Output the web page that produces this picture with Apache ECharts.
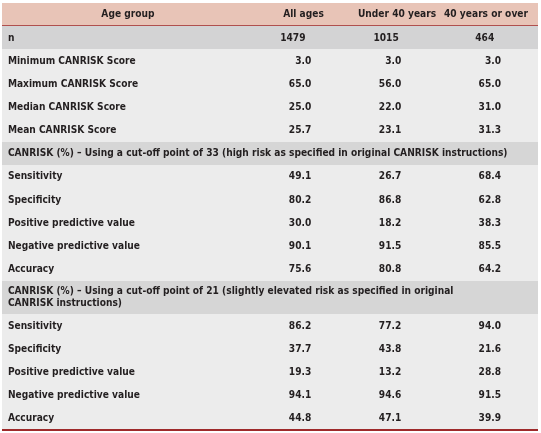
<!DOCTYPE html>
<html>
<head>
<meta charset="utf-8">
<script src="https://cdn.jsdelivr.net/npm/echarts/dist/echarts.min.js"></script>
<style>html,body{margin:0;padding:0;background:#fff;}#chart{width:541px;height:433px;}</style>
</head>
<body>
<div id="chart"></div>
<script>
// ---- data ----
const headerTitle = 'Age group';
const columns = ['All ages', 'Under 40 years', '40 years or over'];
const nLabel = 'n';
const nValues = [1479, 1015, 464];

const scoreLabels = ['Minimum CANRISK Score', 'Maximum CANRISK Score', 'Median CANRISK Score', 'Mean CANRISK Score'];
const scoreAll = [3.0, 65.0, 25.0, 25.7];
const scoreUnder40 = [3.0, 56.0, 22.0, 23.1];
const scoreOver40 = [3.0, 65.0, 31.0, 31.3];

const section33Title = 'CANRISK (%) \u2013 Using a cut-off point of 33 (high risk as specified in original CANRISK instructions)';
const section21Title = 'CANRISK (%) \u2013 Using a cut-off point of 21 (slightly elevated risk as specified in original\nCANRISK instructions)';
const metricLabels = ['Sensitivity', 'Specificity', 'Positive predictive value', 'Negative predictive value', 'Accuracy'];

const cut33All = [49.1, 80.2, 30.0, 90.1, 75.6];
const cut33Under40 = [26.7, 86.8, 18.2, 91.5, 80.8];
const cut33Over40 = [68.4, 62.8, 38.3, 85.5, 64.2];

const cut21All = [86.2, 37.7, 19.3, 94.1, 44.8];
const cut21Under40 = [77.2, 43.8, 13.2, 94.6, 47.1];
const cut21Over40 = [94.0, 21.6, 28.8, 91.5, 39.9];

// ---- build table rows ----
const rows = [];
rows.push({kind: 'header', label: headerTitle, cells: columns});
rows.push({kind: 'n', label: nLabel, cells: nValues.map(String)});
scoreLabels.forEach((l, i) => rows.push({kind: 'body', label: l, cells: [scoreAll[i], scoreUnder40[i], scoreOver40[i]].map(v => v.toFixed(1))}));
rows.push({kind: 'section', label: section33Title, cells: []});
metricLabels.forEach((l, i) => rows.push({kind: 'body', label: l, cells: [cut33All[i], cut33Under40[i], cut33Over40[i]].map(v => v.toFixed(1))}));
rows.push({kind: 'section', label: section21Title, cells: []});
metricLabels.forEach((l, i) => rows.push({kind: 'body', label: l, cells: [cut21All[i], cut21Under40[i], cut21Over40[i]].map(v => v.toFixed(1))}));

let acc = 0;
rows.forEach(r => {
  const lines = r.label.split('\n').length;
  const h = 1 + 0.45 * (lines - 1);
  r.start = acc; r.end = acc + h; acc += h;
});
const total = acc;

// ---- layout/style (percent of table width) ----
const FONT = 'bold 11px "DejaVu Sans Condensed", "Liberation Sans Narrow", sans-serif';
const SCALE_X = 0.92;
const TEXT = '#231f20';
const labelX = 1.1;
const headerCenterX = 23.5;
const colHeaderX = [56.25, 73.7, 90.3];
const valueRightX = [57.7, 74.5, 93.1];
const nLeftX = [51.9, 69.3, 88.3];
const bg = {header: '#e8c4b7', n: '#d3d3d4', section: '#d6d6d6', body: '#ececec'};
const RED = '#9e2a2b';

const chart = echarts.init(document.getElementById('chart'), null, {renderer: 'canvas'});
chart.setOption({
  animation: false,
  grid: {left: 2, right: 3, top: 3, bottom: 3},
  xAxis: {type: 'value', min: 0, max: 100, show: false},
  yAxis: {type: 'value', min: 0, max: total, inverse: true, show: false},
  series: [{
    type: 'custom',
    clip: false,
    data: rows.map((r, i) => [i, r.start, r.end]),
    encode: {x: 0, y: [1, 2]},
    renderItem: function (params, api) {
      const i = api.value(0);
      const r = rows[i];
      const p0 = api.coord([0, r.start]);
      const p1 = api.coord([100, r.end]);
      const x0 = Math.round(p0[0]), x1 = Math.round(p1[0]);
      const y0 = Math.round(p0[1]), y1 = Math.round(p1[1]);
      const cy = (p0[1] + p1[1]) / 2;
      const xAt = pct => api.coord([pct, 0])[0];
      const children = [{
        type: 'rect',
        shape: {x: x0, y: y0, width: x1 - x0, height: y1 - y0 + 0.5},
        style: {fill: bg[r.kind]}
      }];
      const txt = (t, x, align) => ({
        type: 'text',
        x: x, y: cy, scaleX: SCALE_X,
        style: {text: t, x: 0, y: 0, font: FONT, fill: TEXT, align: align, verticalAlign: 'middle', lineHeight: 12}
      });
      if (r.kind === 'header') {
        children.push(txt(r.label, xAt(headerCenterX), 'center'));
        r.cells.forEach((c, k) => children.push(txt(c, xAt(colHeaderX[k]), 'center')));
      } else if (r.kind === 'n') {
        children.push(txt(r.label, xAt(labelX), 'left'));
        r.cells.forEach((c, k) => children.push(txt(c, xAt(nLeftX[k]), 'left')));
      } else if (r.kind === 'section') {
        children.push(txt(r.label, xAt(labelX), 'left'));
      } else {
        children.push(txt(r.label, xAt(labelX), 'left'));
        r.cells.forEach((c, k) => children.push(txt(c, xAt(valueRightX[k]), 'right')));
      }
      if (r.kind === 'header') {
        children.push({type: 'line', shape: {x1: x0, y1: y1, x2: x1, y2: y1}, style: {stroke: RED, lineWidth: 1.5}});
      }
      if (i === rows.length - 1) {
        children.push({type: 'line', shape: {x1: x0, y1: y1, x2: x1, y2: y1}, style: {stroke: RED, lineWidth: 2}});
      }
      return {type: 'group', children: children};
    }
  }]
});
</script>
</body>
</html>
